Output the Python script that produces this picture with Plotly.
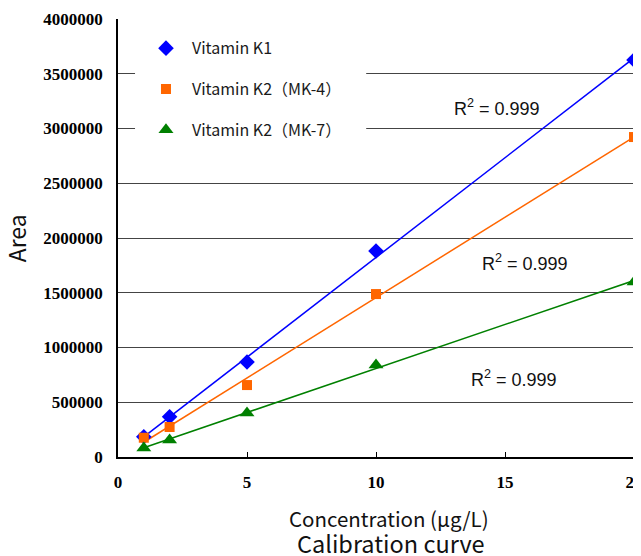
import numpy as np
import plotly.graph_objects as go

conc = [1, 2, 5, 10, 20]
k1 = [185000, 368000, 867000, 1881000, 3625000]
mk4 = [176000, 274000, 657000, 1488000, 2922000]
mk7 = [82000, 155000, 402000, 840000, 1598000]

names = ["Vitamin K1", "Vitamin K2（MK-4）", "Vitamin K2（MK-7）"]
series = [k1, mk4, mk7]
colors = ["#0000FF", "#FF6600", "#008000"]
symbols = ["diamond", "square", "triangle-up"]
sizes = [12, 10, 13]
r2_labels = ["R<sup>2</sup> = 0.999", "R<sup>2</sup> = 0.999", "R<sup>2</sup> = 0.999"]

y_ticks = [0, 500000, 1000000, 1500000, 2000000, 2500000, 3000000, 3500000, 4000000]
x_ticks = [0, 5, 10, 15, 20]

fig = go.Figure()

for name, ys, c in zip(names, series, colors):
    a, b = np.polyfit(conc, ys, 1)
    xs = [min(conc), max(conc)]
    fig.add_trace(go.Scatter(x=xs, y=[a * v + b for v in xs], mode="lines",
                             line=dict(color=c, width=1.5), showlegend=False,
                             hoverinfo="skip"))

for i, (name, ys, c, s, sz) in enumerate(zip(names, series, colors, symbols, sizes)):
    fig.add_trace(go.Scatter(x=conc, y=ys, mode="markers", name=name,
                             legendgroup=f"g{i}", cliponaxis=False,
                             marker=dict(color=c, symbol=s, size=sz, line=dict(width=0))))

# white area behind legend
fig.add_shape(type="rect", xref="paper", yref="paper", x0=0.033, x1=0.481,
              y0=0.68, y1=0.97, fillcolor="white", line=dict(width=0), layer="above")

r2_pos = [(14.69, 3196000), (15.78, 1772000), (15.35, 721000)]
for (xp, yp), t in zip(r2_pos, r2_labels):
    fig.add_annotation(x=xp, y=yp, xref="x", yref="y", text=t, showarrow=False,
                       font=dict(family="Liberation Sans, Arial", size=18, color="#111"))

fig.update_layout(
    width=633, height=548,
    margin=dict(l=110, r=7, t=11, b=99, autoexpand=False),
    paper_bgcolor="white", plot_bgcolor="white",
    showlegend=True,
    legend=dict(x=0.0426, y=0.972, xanchor="left", yanchor="top",
                bgcolor="rgba(0,0,0,0)", borderwidth=0, itemwidth=42,
                font=dict(family="Noto Sans CJK JP", size=16, color="#1a1a1a"),
                tracegroupgap=17, traceorder="grouped"),
    xaxis=dict(range=[0, 20], tickvals=x_ticks, showgrid=False,
               showline=True, linecolor="black", linewidth=1.5,
               ticks="inside", ticklen=5, tickcolor="black",
               tickfont=dict(family="Liberation Serif, Times New Roman", size=17,
                             color="black", weight="bold"),
               ticklabelstandoff=9, ticklabeloverflow="allow", zeroline=False),
    yaxis=dict(range=[0, 4000000], tickvals=y_ticks, tickformat="d",
               showgrid=True, gridcolor="#444", gridwidth=1,
               showline=True, linecolor="black", linewidth=1.5,
               ticks="", zeroline=False, ticklabeloverflow="allow",
               tickfont=dict(family="Liberation Serif, Times New Roman", size=17,
                             color="black", weight="bold"),
               ticklabelstandoff=10),
)

# right border
fig.add_shape(type="line", xref="paper", yref="paper", x0=1, x1=1, y0=0, y1=1,
              line=dict(color="#999", width=1.5))

fig.add_annotation(xref="paper", yref="paper", x=0.525, y=-0.139, yanchor="middle",
                   text="Concentration (μg/L)", showarrow=False,
                   font=dict(family="Noto Sans CJK JP", size=20.5, color="#111"))
fig.add_annotation(xref="paper", yref="paper", x=0.529, y=-0.196, yanchor="middle",
                   text="Calibration curve", showarrow=False,
                   font=dict(family="Noto Sans CJK JP", size=23.5, color="#111"))
fig.add_annotation(xref="paper", yref="paper", x=-0.197, y=0.5, xanchor="center", yanchor="middle",
                   text="Area", textangle=-90, showarrow=False,
                   font=dict(family="Noto Sans CJK JP", size=23, color="#111"))

fig.write_html("out.html")
